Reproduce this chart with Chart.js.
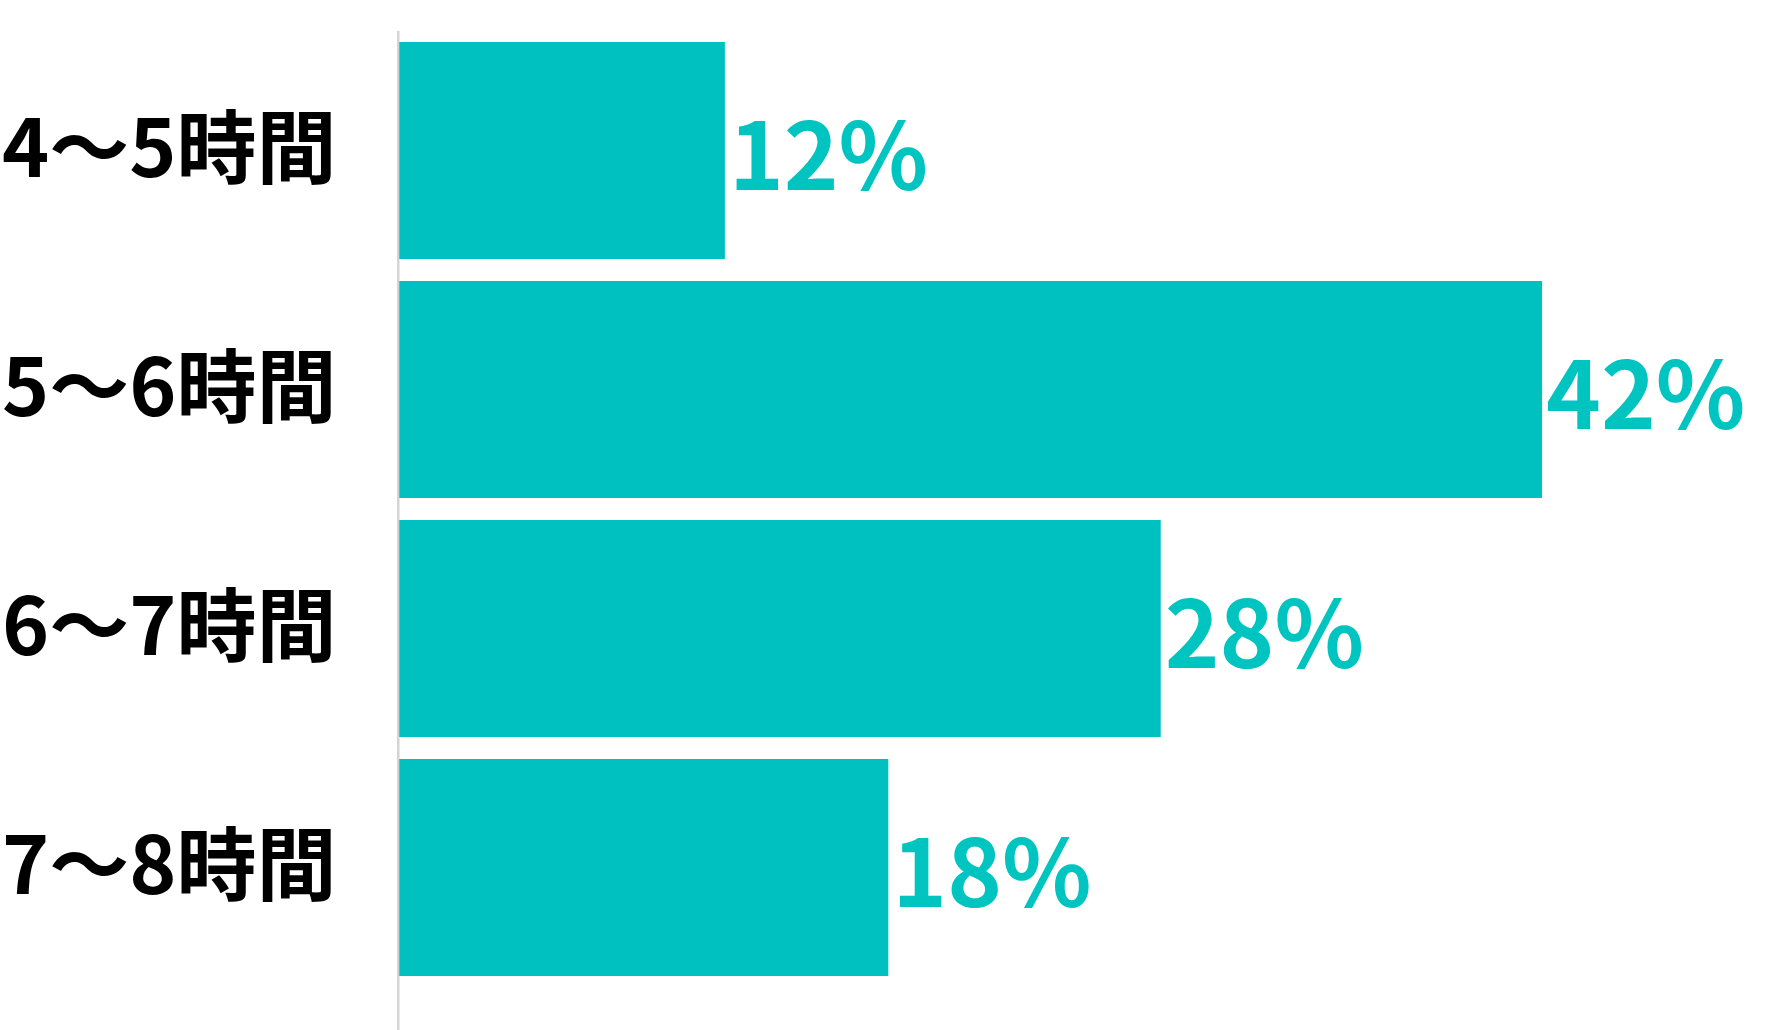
<!DOCTYPE html>
<html lang="ja">
<head>
<meta charset="utf-8">
<title>睡眠時間</title>
<script src="https://cdn.jsdelivr.net/npm/chart.js@4.4.1/dist/chart.umd.min.js"></script>
<style>
  html, body { margin: 0; padding: 0; background: #ffffff; }
  #wrap { width: 1786px; height: 1030px; }
</style>
</head>
<body>
<div id="wrap"><canvas id="chart" width="1786" height="1030"></canvas></div>
<script>
// データ
const categories = ["4～5時間", "5～6時間", "6～7時間", "7～8時間"];
const percentValues = [12, 42, 28, 18];
const xMax = 50;

// 色・フォント
const barColor = "#00c0c0";
const labelColor = "#00c4c0";
const axisColor = "#d4d4d4";
const fontFamily = '"Noto Sans CJK JP", "Noto Sans", sans-serif';

// 棒の右側にパーセントを描くプラグイン
const percentLabels = {
  id: "percentLabels",
  afterDatasetsDraw(chart) {
    const ctx = chart.ctx;
    const meta = chart.getDatasetMeta(0);
    ctx.save();
    ctx.font = `bold 93px ${fontFamily}`;
    ctx.fillStyle = labelColor;
    ctx.textAlign = "left";
    ctx.textBaseline = "middle";
    meta.data.forEach((bar, i) => {
      ctx.fillText(percentValues[i] + "%", bar.x + 4, bar.y + 4);
    });
    ctx.restore();
  },
};

const ctx = document.getElementById("chart").getContext("2d");
new Chart(ctx, {
  type: "bar",
  data: {
    labels: categories,
    datasets: [
      {
        data: percentValues,
        backgroundColor: barColor,
        borderWidth: 0,
        categoryPercentage: 1,
        barPercentage: 0.908,
      },
    ],
  },
  options: {
    indexAxis: "y",
    responsive: false,
    devicePixelRatio: 1,
    animation: false,
    layout: { padding: { top: 31, right: 26, left: 2, bottom: 0 } },
    plugins: {
      legend: { display: false },
      tooltip: { enabled: false },
    },
    scales: {
      x: {
        min: 0,
        max: xMax,
        border: { display: false },
        ticks: { display: false },
        grid: {
          // 0 の線だけ見せて縦軸の線にする（下へはみ出す）
          color: (c) => (c.tick && c.tick.value === 0 ? axisColor : "transparent"),
          lineWidth: 2.5,
          tickLength: 43,
        },
      },
      y: {
        border: { display: false },
        grid: { display: false },
        ticks: {
          color: "#000000",
          font: { family: fontFamily, size: 80, weight: "bold", lineHeight: 0.7 },
          padding: 0,
          crossAlign: "far",
          labelOffset: -4,
        },
        afterFit(scale) {
          scale.width = 396;
        },
      },
    },
  },
  plugins: [percentLabels],
});
</script>
</body>
</html>
